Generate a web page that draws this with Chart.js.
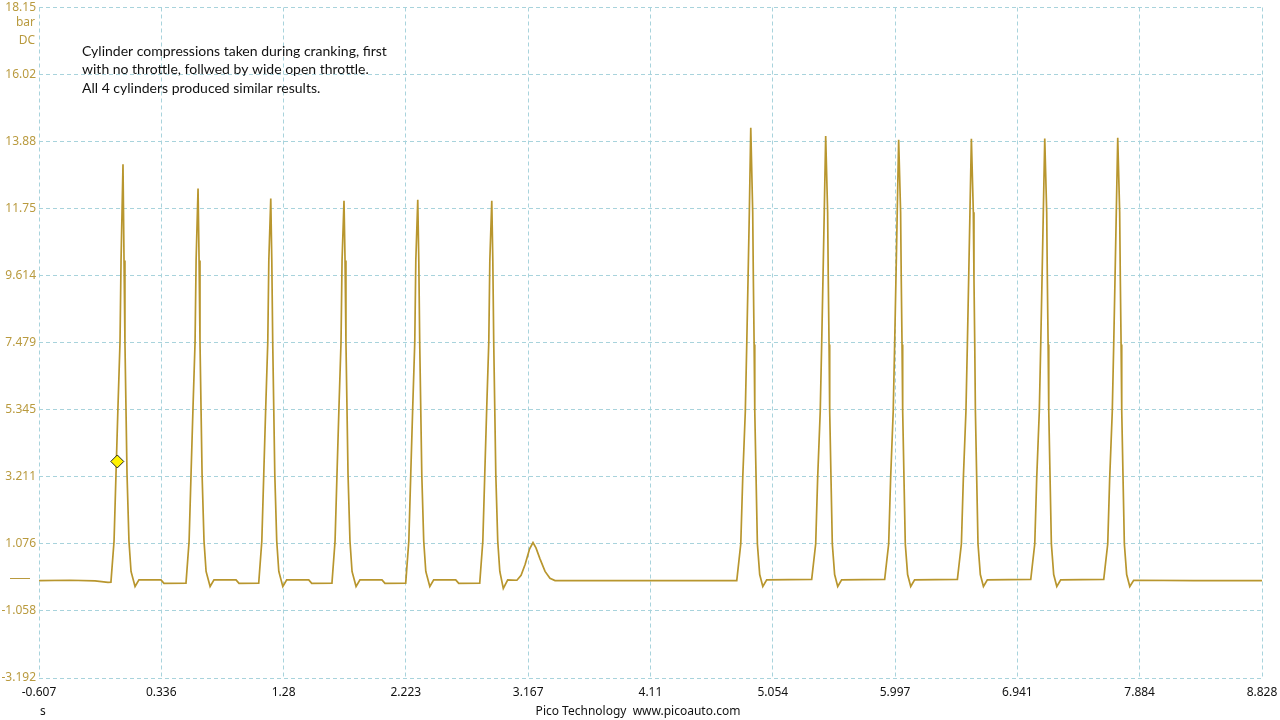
<!DOCTYPE html>
<html><head><meta charset="utf-8">
<script src="https://cdn.jsdelivr.net/npm/chart.js@4.4.1/dist/chart.umd.min.js"></script>
<style>html,body{margin:0;padding:0;background:#fff;overflow:hidden}</style>
</head><body>
<canvas id="c" width="1280" height="720"></canvas>
<script>
// ---- tick values (axis labels) ----
const xTicks = [-0.607, 0.336, 1.28, 2.223, 3.167, 4.11, 5.054, 5.997, 6.941, 7.884, 8.828];
const yTicks = [-3.192, -1.058, 1.076, 3.211, 5.345, 7.479, 9.614, 11.75, 13.88, 16.02, 18.15];

// ---- trace: time (s) and pressure (bar) ----
const timeS = [
  -0.607, -0.368, -0.175, -0.075,
  -0.052, -0.028, -0.013, 0.002, 0.018, 0.026, 0.041, 0.049, 0.056, 0.064, 0.072, 0.087, 0.103, 0.134, 0.164, 0.334, 0.357,
  0.527, 0.551, 0.566, 0.581, 0.597, 0.605, 0.620, 0.628, 0.635, 0.643, 0.651, 0.666, 0.682, 0.713, 0.743, 0.913, 0.936,
  1.088, 1.112, 1.127, 1.142, 1.158, 1.166, 1.181, 1.189, 1.196, 1.204, 1.212, 1.227, 1.243, 1.274, 1.304, 1.474, 1.497,
  1.653, 1.677, 1.692, 1.707, 1.723, 1.731, 1.746, 1.754, 1.761, 1.769, 1.777, 1.792, 1.808, 1.839, 1.869, 2.039, 2.062,
  2.222, 2.246, 2.261, 2.276, 2.292, 2.300, 2.315, 2.323, 2.330, 2.338, 2.346, 2.361, 2.377, 2.408, 2.438, 2.608, 2.631,
  2.793, 2.817, 2.832, 2.847, 2.863, 2.871, 2.886, 2.894, 2.901, 2.909, 2.917, 2.932, 2.948, 2.975, 3.009,
  3.080, 3.112, 3.143, 3.178, 3.204, 3.227, 3.258, 3.297, 3.335, 3.374, 4.030,
  4.776, 4.807, 4.822, 4.842, 4.853, 4.863, 4.873, 4.884, 4.899, 4.904, 4.910, 4.915, 4.925, 4.935, 4.953, 4.977, 5.007,
  5.354, 5.385, 5.400, 5.420, 5.431, 5.441, 5.451, 5.462, 5.477, 5.482, 5.488, 5.493, 5.503, 5.513, 5.531, 5.555, 5.585,
  5.917, 5.948, 5.963, 5.983, 5.994, 6.004, 6.014, 6.025, 6.040, 6.045, 6.051, 6.056, 6.066, 6.076, 6.094, 6.118, 6.148,
  6.478, 6.509, 6.524, 6.544, 6.555, 6.565, 6.575, 6.586, 6.601, 6.606, 6.612, 6.617, 6.627, 6.637, 6.655, 6.679, 6.709,
  7.044, 7.075, 7.090, 7.110, 7.121, 7.131, 7.141, 7.152, 7.167, 7.172, 7.178, 7.183, 7.193, 7.203, 7.221, 7.245, 7.275,
  7.607, 7.638, 7.653, 7.673, 7.684, 7.694, 7.704, 7.715, 7.730, 7.735, 7.741, 7.746, 7.756, 7.766, 7.784, 7.808, 7.838,
  8.300, 8.828
];
const pressureBar = [
  -0.09, -0.08, -0.10, -0.15,
  -0.14, 1.17, 3.3, 5.4, 7.5, 10.1, 13.16, 10.1, 7.5, 5.4, 3.3, 1.17, 0.2, -0.28, -0.07, -0.07, -0.18,
  -0.17, 1.17, 3.3, 5.4, 7.5, 10.1, 12.39, 10.1, 7.5, 5.4, 3.3, 1.17, 0.2, -0.28, -0.07, -0.07, -0.18,
  -0.17, 1.17, 3.3, 5.4, 7.5, 10.1, 12.07, 10.1, 7.5, 5.4, 3.3, 1.17, 0.2, -0.28, -0.07, -0.07, -0.18,
  -0.17, 1.17, 3.3, 5.4, 7.5, 10.1, 12.00, 10.1, 7.5, 5.4, 3.3, 1.17, 0.2, -0.28, -0.07, -0.07, -0.18,
  -0.17, 1.17, 3.3, 5.4, 7.5, 10.1, 12.03, 10.1, 7.5, 5.4, 3.3, 1.17, 0.2, -0.28, -0.07, -0.07, -0.18,
  -0.17, 1.17, 3.3, 5.4, 7.5, 10.1, 12.00, 10.1, 7.5, 5.4, 3.3, 1.17, 0.2, -0.34, -0.07,
  -0.08, 0.08, 0.42, 0.92, 1.12, 0.95, 0.60, 0.20, -0.02, -0.09, -0.09,
  -0.09, 1.08, 3.17, 5.3, 7.42, 9.51, 11.63, 14.32, 11.63, 9.51, 7.42, 5.3, 3.17, 1.08, 0.1, -0.28, -0.07,
  -0.05, 1.08, 3.17, 5.3, 7.42, 9.51, 11.63, 14.06, 11.63, 9.51, 7.42, 5.3, 3.17, 1.08, 0.1, -0.28, -0.07,
  -0.05, 1.08, 3.17, 5.3, 7.42, 9.51, 11.63, 13.94, 11.63, 9.51, 7.42, 5.3, 3.17, 1.08, 0.1, -0.28, -0.07,
  -0.05, 1.08, 3.17, 5.3, 7.42, 9.51, 11.63, 13.97, 11.63, 9.51, 7.42, 5.3, 3.17, 1.08, 0.1, -0.28, -0.07,
  -0.05, 1.08, 3.17, 5.3, 7.42, 9.51, 11.63, 13.98, 11.63, 9.51, 7.42, 5.3, 3.17, 1.08, 0.1, -0.28, -0.07,
  -0.05, 1.08, 3.17, 5.3, 7.42, 9.51, 11.63, 14.00, 11.63, 9.51, 7.42, 5.3, 3.17, 1.08, 0.1, -0.28, -0.08,
  -0.09, -0.09
];

// ---- cursor marker ----
const markerTime = [-0.003];
const markerValue = [3.70];

// ---- texts ----
const noteLines = [
  'Cylinder compressions taken during cranking, first',
  'with no throttle, follwed by wide open throttle.',
  'All 4 cylinders produced similar results.'
];
const yUnitLabels = ['bar', 'DC'];
const xUnitLabel = 's';
const footerText = 'Pico Technology  www.picoauto.com';

const TRACE = '#B8962E';
const AXIS_TXT = '#B99A3E';
const GRID = '#A8D3DC';
const FONT = '"Noto Sans", "Open Sans", sans-serif';

const tracePoints = timeS.map((t, i) => ({x: t, y: pressureBar[i]}));
const markerPoints = markerTime.map((t, i) => ({x: t, y: markerValue[i]}));

const overlay = {
  id: 'overlay',
  afterDraw(chart) {
    const ctx = chart.ctx;
    const ys = chart.scales.y;
    ctx.save();
    // zero reference mark left of the axis
    const y0 = Math.round(ys.getPixelForValue(0)) + 0.5;
    ctx.strokeStyle = AXIS_TXT;
    ctx.lineWidth = 1;
    ctx.beginPath(); ctx.moveTo(10, y0); ctx.lineTo(30, y0); ctx.stroke();
    // unit labels
    ctx.fillStyle = AXIS_TXT;
    ctx.font = '12px ' + FONT;
    ctx.textAlign = 'right';
    ctx.textBaseline = 'middle';
    ctx.fillText(yUnitLabels[0], 35, 23);
    ctx.fillText(yUnitLabels[1], 35, 41);
    // x unit and footer
    ctx.fillStyle = '#111';
    ctx.textAlign = 'left';
    ctx.fillText(xUnitLabel, 40, 712);
    ctx.textAlign = 'center';
    ctx.fillText(footerText, 638, 712);
    // note
    ctx.fillStyle = '#111';
    ctx.textAlign = 'left';
    ctx.font = '14px Lato, ' + FONT;
    noteLines.forEach((s, i) => ctx.fillText(s, 82, 51 + i * 18.5));
    ctx.restore();
  }
};

new Chart(document.getElementById('c'), {
  type: 'line',
  data: {
    datasets: [
      {
        data: markerPoints,
        showLine: false,
        pointStyle: 'rectRot',
        pointRadius: 6.5,
        pointBackgroundColor: '#FFF200',
        pointBorderColor: '#222',
        pointBorderWidth: 1,
        order: 0
      },
      {
        data: tracePoints,
        borderColor: TRACE,
        borderWidth: 1.7,
        pointRadius: 0,
        tension: 0,
        fill: false,
        order: 1
      }
    ]
  },
  options: {
    responsive: false,
    animation: false,
    devicePixelRatio: 1,
    layout: {padding: {top: 4, right: 18, bottom: 0, left: 0}},
    plugins: {legend: {display: false}, tooltip: {enabled: false}},
    scales: {
      x: {
        type: 'linear',
        min: xTicks[0], max: xTicks[xTicks.length - 1],
        afterBuildTicks: (s) => { s.ticks = xTicks.map(v => ({value: v})); },
        afterFit: (s) => { s.height = 42; s.paddingLeft = 0; s.paddingRight = 0; },
        ticks: {
          autoSkip: false, maxRotation: 0, padding: 7,
          color: '#111', font: {family: FONT, size: 12},
          callback: (v, i) => String(xTicks[i])
        },
        grid: {color: GRID, lineWidth: 1, drawTicks: false},
        border: {display: false, dash: [4, 3]}
      },
      y: {
        type: 'linear',
        min: yTicks[0], max: yTicks[yTicks.length - 1],
        afterBuildTicks: (s) => { s.ticks = yTicks.map(v => ({value: v})); },
        afterFit: (s) => { s.width = 39; s.paddingTop = 0; s.paddingBottom = 0; },
        ticks: {
          autoSkip: false, padding: 3,
          color: AXIS_TXT, font: {family: FONT, size: 12},
          callback: (v, i) => String(yTicks[i])
        },
        grid: {color: GRID, lineWidth: 1, drawTicks: false},
        border: {display: false, dash: [4, 3]}
      }
    }
  },
  plugins: [overlay]
});
</script>
</body></html>
